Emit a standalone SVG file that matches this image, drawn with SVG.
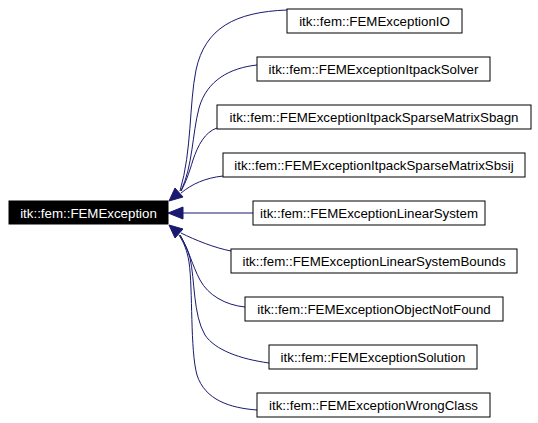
<svg xmlns="http://www.w3.org/2000/svg" width="538" height="423" viewBox="0 0 538 423">
<style>
.n rect{fill:#fff;stroke:#000;stroke-width:1}
.n text{font-family:"Liberation Sans",Arial,sans-serif;font-size:13.3px;fill:#000;text-anchor:middle}
#main rect{fill:#000}
#main text{fill:#fff}
.e path{fill:none;stroke:#191970;stroke-width:1}
.e polygon{fill:#191970;stroke:#191970;stroke-width:1}
</style>
<rect width="538" height="423" fill="#fff"/>
<g class="e" id="connectors">
<path d="M287,10 C235,12 205,28 196,70 C189,105 192,150 180,191"/>
<path d="M257,65 C230,68 207,80 199,108 C192,135 193,165 181,191"/>
<path d="M217,128 C205,132 198,145 193,160 C189,173 186,182 181,191"/>
<path d="M223,176 C205,178 192,184 181,193"/>
<path d="M253,213 L183,213"/>
<path d="M231,251 C215,248 195,240 181,233"/>
<path d="M245,307 C225,305 208,295 200,280 C192,265 189,250 180,235"/>
<path d="M269,363 C240,359 215,350 205,335 C193,315 195,280 190,258 C188,250 184,242 180,235"/>
<path d="M257,410 C230,408 205,400 197,375 C190,350 193,290 189,262 C187,250 184,243 179,235"/>
<polygon points="169,201 175,188 183,197"/>
<polygon points="168,213 183,207 183,219"/>
<polygon points="169,225 183,229 175,238"/>
</g>
<g class="n" id="main"><rect x="9" y="201" width="159" height="23"/><text x="88.5" y="217.5">itk::fem::FEMException</text></g>
<g class="n" id="n1"><rect x="287" y="9" width="175" height="24"/><text x="374.5" y="26">itk::fem::FEMExceptionIO</text></g>
<g class="n" id="n2"><rect x="257" y="57" width="233" height="24"/><text x="373.5" y="74">itk::fem::FEMExceptionItpackSolver</text></g>
<g class="n" id="n3"><rect x="217" y="105" width="314" height="24"/><text x="374" y="122">itk::fem::FEMExceptionItpackSparseMatrixSbagn</text></g>
<g class="n" id="n4"><rect x="223" y="153" width="302" height="24"/><text x="374" y="170">itk::fem::FEMExceptionItpackSparseMatrixSbsij</text></g>
<g class="n" id="n5"><rect x="253" y="201" width="232" height="24"/><text x="369" y="218">itk::fem::FEMExceptionLinearSystem</text></g>
<g class="n" id="n6"><rect x="231" y="249" width="286" height="24"/><text x="374" y="266">itk::fem::FEMExceptionLinearSystemBounds</text></g>
<g class="n" id="n7"><rect x="245" y="297" width="258" height="24"/><text x="374" y="314">itk::fem::FEMExceptionObjectNotFound</text></g>
<g class="n" id="n8"><rect x="269" y="345" width="208" height="24"/><text x="373" y="362">itk::fem::FEMExceptionSolution</text></g>
<g class="n" id="n9"><rect x="257" y="393" width="233" height="24"/><text x="373.5" y="410">itk::fem::FEMExceptionWrongClass</text></g>
</svg>
